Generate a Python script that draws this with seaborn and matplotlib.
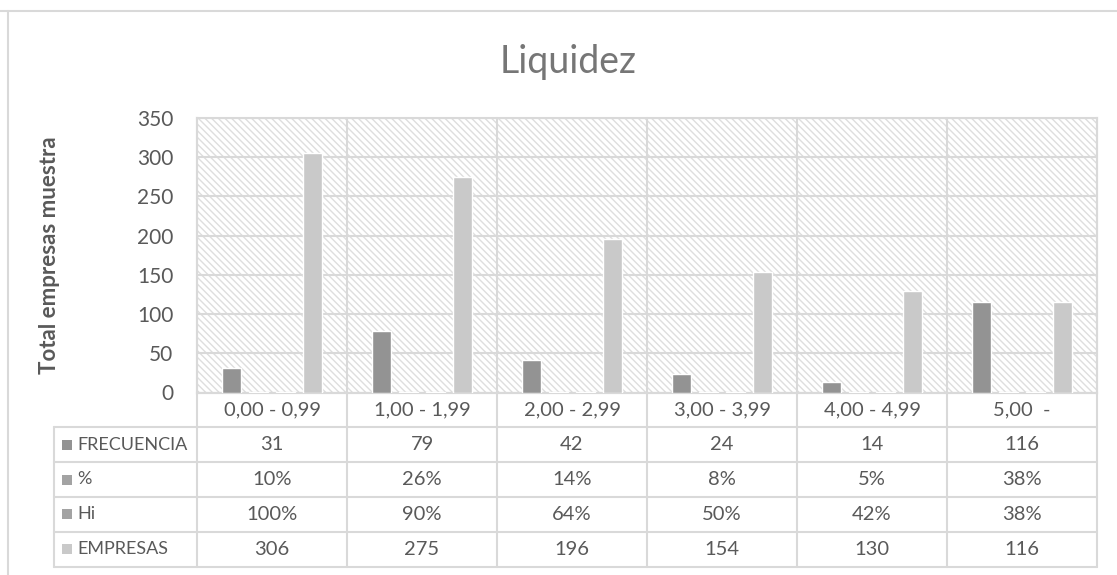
import matplotlib
matplotlib.use("Agg")
import matplotlib.pyplot as plt
import matplotlib.transforms as mtransforms
from matplotlib.lines import Line2D
from matplotlib.patches import Rectangle
import seaborn as sns
import pandas as pd

# ---- data ----
categories = ["0,00 - 0,99", "1,00 - 1,99", "2,00 - 2,99", "3,00 - 3,99", "4,00 - 4,99", "5,00  -"]
series_names = ["FRECUENCIA", "%", "Hi", "EMPRESAS"]
frecuencia = [31, 79, 42, 24, 14, 116]
porcentaje = [0.10, 0.26, 0.14, 0.08, 0.05, 0.38]
hi = [1.00, 0.90, 0.64, 0.50, 0.42, 0.38]
empresas = [306, 275, 196, 154, 130, 116]
yticks = [0, 50, 100, 150, 200, 250, 300, 350]
title = "Liquidez"
ylabel = "Total empresas muestra"

series_values = [frecuencia, porcentaje, hi, empresas]
series_fmt = ["{:d}", "{:.0%}", "{:.0%}", "{:d}"]
colors = {"FRECUENCIA": "#939393", "%": "#a3a3a3", "Hi": "#a3a3a3", "EMPRESAS": "#c9c9c9"}

rows = []
for name, vals in zip(series_names, series_values):
    for c, v in zip(categories, vals):
        rows.append({"cat": c, "serie": name, "val": v})
df = pd.DataFrame(rows)

sns.set_theme(style="white")
plt.rcParams["font.family"] = ["Lato", "DejaVu Sans"]
plt.rcParams["hatch.linewidth"] = 1.0
TXT = "#595959"
GRID = "#d9d9d9"

fig = plt.figure(figsize=(11.17, 5.75), dpi=100)
W, H = 1117, 575
ax_l, ax_r, ax_t, ax_b = 197, 1097, 118, 392.5
ax = fig.add_axes([ax_l / W, 1 - ax_b / H, (ax_r - ax_l) / W, (ax_b - ax_t) / H])
ax_h = ax_b - ax_t
ax_w = ax_r - ax_l

# hatched plot-area background
ax.patch.set_facecolor("white")
ax.patch.set_edgecolor("#dedede")
ax.patch.set_hatch("\\\\\\\\\\")
ax.patch.set_linewidth(0)

sns.barplot(data=df, x="cat", y="val", hue="serie", hue_order=series_names,
            order=categories, palette=colors, saturation=1, width=0.725, gap=0.3,
            legend=False, ax=ax, zorder=3, errorbar=None)

ax.set_xlim(-0.5, len(categories) - 0.5)
ax.set_ylim(0, 350)
ax.set_yticks(yticks)
ax.set_yticklabels([str(t) for t in yticks])
ax.tick_params(axis="y", length=0, pad=17, labelsize=15, labelcolor=TXT)
ax.set_xticks([])
ax.set_xlabel("")
ax.set_ylabel(ylabel, fontsize=16, fontweight="bold", color=TXT)
ax.yaxis.set_label_coords(-0.152, 0.5)
ax.grid(axis="y", color=GRID, linewidth=1.5, zorder=1)
ax.set_axisbelow(True)
for s in ax.spines.values():
    s.set_color(GRID)
    s.set_linewidth(1.5)

# ---- data table ----
blend = mtransforms.blended_transform_factory(ax.transData, ax.transAxes)
row_h = 34.8 / ax_h
n_rows = len(series_names) + 1
bottom = -n_rows * row_h

for i in range(len(categories) + 1):
    ax.add_line(Line2D([i - 0.5, i - 0.5], [1, bottom], transform=blend,
                       color=GRID, lw=1.5, clip_on=False, zorder=2))
for k in range(n_rows + 1):
    y = -k * row_h
    x0 = (54 - ax_l) / ax_w if k >= 1 else 0
    ax.add_line(Line2D([x0, 1], [y, y], transform=ax.transAxes,
                       color=GRID, lw=1.5, clip_on=False, zorder=2))
x_left = (54 - ax_l) / ax_w
ax.add_line(Line2D([x_left, x_left], [-row_h, bottom], transform=ax.transAxes,
                   color=GRID, lw=1.5, clip_on=False))

for i, c in enumerate(categories):
    ax.text(i, -0.5 * row_h, c, transform=blend, ha="center", va="center",
            fontsize=14.5, color=TXT, clip_on=False)

sq_w = 10 / ax_w
sq_h = 10 / ax_h
for r, (name, vals, fmt) in enumerate(zip(series_names, series_values, series_fmt)):
    yc = -(r + 1.5) * row_h
    ax.add_patch(Rectangle(((62 - ax_l) / ax_w, yc - sq_h / 2), sq_w, sq_h,
                           transform=ax.transAxes, facecolor=colors[name],
                           edgecolor="none", clip_on=False))
    ax.text((77 - ax_l) / ax_w, yc, name, transform=ax.transAxes, ha="left",
            va="center", fontsize=13, color=TXT, clip_on=False)
    for i, v in enumerate(vals):
        ax.text(i, yc, fmt.format(v), transform=blend, ha="center", va="center",
                fontsize=14.5, color=TXT, clip_on=False)

fig.text(568 / W, 1 - 73 / H, title, ha="center", va="baseline",
         fontsize=27, color="#767676")

fig.add_artist(Line2D([0, 1], [1 - 11 / H, 1 - 11 / H], transform=fig.transFigure,
                      color=GRID, lw=1.5))
fig.add_artist(Line2D([8 / W, 8 / W], [0, 1 - 11 / H], transform=fig.transFigure,
                      color=GRID, lw=1.5))

fig.savefig("out.png", dpi=100)
